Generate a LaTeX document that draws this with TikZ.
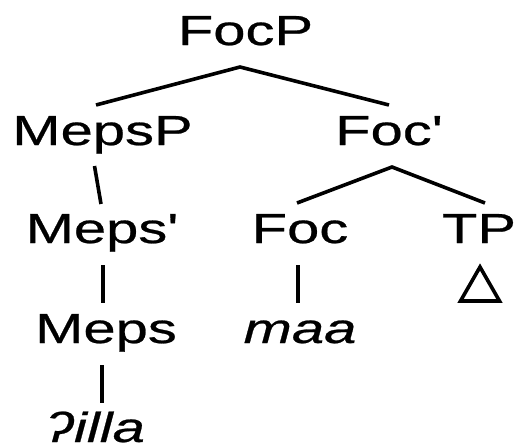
\documentclass[tikz,border=0pt]{standalone}
\usepackage{fontspec}
\newfontfamily\treefont{Liberation Sans}[FakeStretch=1.38,FakeBold=0.6]
\begin{document}
\begin{tikzpicture}[x=1pt,y=-1pt,
  lbl/.style={anchor=base,inner sep=0pt,font=\treefont\fontsize{42}{42}\selectfont},
  word/.style={lbl,font=\treefont\itshape\fontsize{42}{42}\selectfont},
  branch/.style={line width=3.6pt,line cap=butt}]
\useasboundingbox (0,0) rectangle (517,442);
% labels
\node[lbl]  (FocP)  at (245.5,45)  {FocP};
\node[lbl]  (MepsP) at (102.5,145) {MepsP};
\node[lbl]  (Focbar) at (389,145)  {Foc'};
\node[lbl]  (Mepsbar) at (102,243) {Meps'};
\node[lbl]  (Foc)   at (300,243)   {Foc};
\node[lbl]  (TP)    at (479,243)   {TP};
\node[lbl]  (Meps)  at (106,343)   {Meps};
\node[word] (maa)   at (300,343)   {maa};
\node[word] (illa)  at (95,442)    {ʔilla};
% branch end points
\coordinate (FocP-b)    at (240,67);
\coordinate (MepsP-t)   at (96,105);
\coordinate (Focbar-t)  at (389,105);
\coordinate (MepsP-b)   at (94.5,166);
\coordinate (Mepsbar-t) at (101,204);
\coordinate (Focbar-b)  at (392,167);
\coordinate (Foc-t)     at (297,203);
\coordinate (TP-t)      at (485,203);
\coordinate (Mepsbar-b) at (103,265);
\coordinate (Meps-t)    at (103,303);
\coordinate (Foc-b)     at (298,265);
\coordinate (maa-t)     at (298,303);
\coordinate (Meps-b)    at (102,365);
\coordinate (illa-t)    at (102,403);
% branches
\draw[branch] (MepsP-t) -- (FocP-b) -- (Focbar-t);
\draw[branch] (MepsP-b) -- (Mepsbar-t);
\draw[branch] (Foc-t) -- (Focbar-b) -- (TP-t);
\draw[branch] (Mepsbar-b) -- (Meps-t);
\draw[branch] (Foc-b) -- (maa-t);
\draw[branch] (Meps-b) -- (illa-t);
% triangle under TP
\coordinate (tri-a) at (480,267);
\coordinate (tri-l) at (460.5,301);
\coordinate (tri-r) at (499.5,301);
\draw[line width=3.6pt,line join=miter] (tri-a) -- (tri-l) -- (tri-r) -- cycle;
\end{tikzpicture}
\end{document}
